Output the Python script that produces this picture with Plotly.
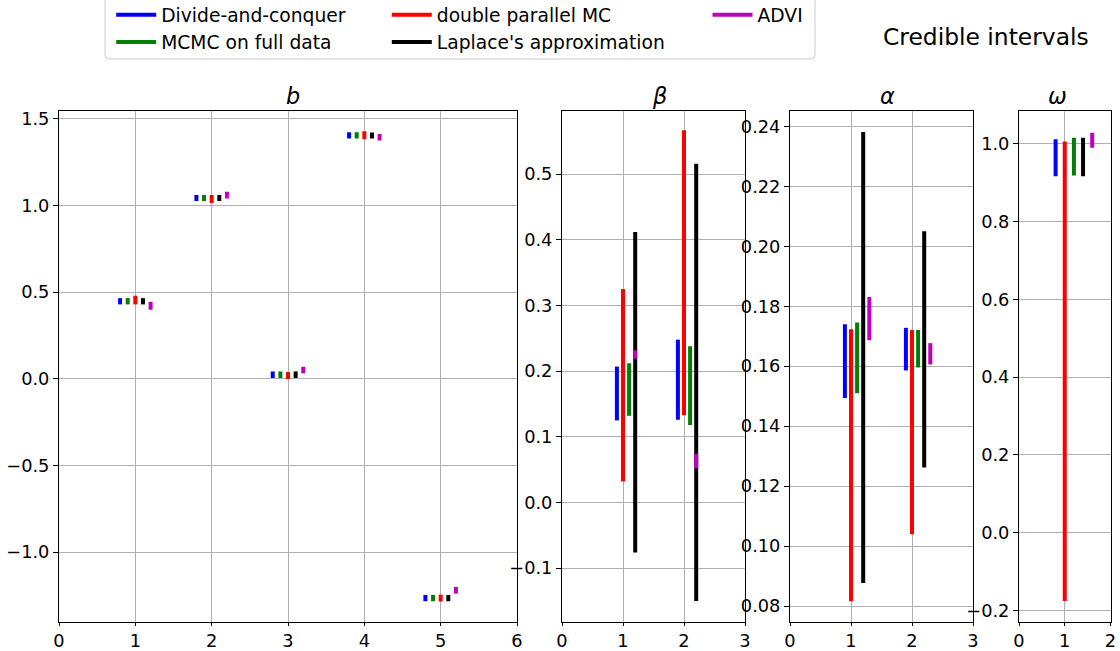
import plotly.graph_objects as go

# ---------------- data ----------------
methods = ["Divide-and-conquer", "MCMC on full data", "double parallel MC",
           "Laplace's approximation", "ADVI"]

# panel b : coefficients 1..5
b_categories = [1, 2, 3, 4, 5]
b_dc_lo = [0.429, 1.025, 0.004, 1.386, -1.284]
b_dc_hi = [0.465, 1.060, 0.042, 1.422, -1.248]
b_mcmc_lo = [0.429, 1.025, 0.004, 1.386, -1.284]
b_mcmc_hi = [0.465, 1.060, 0.042, 1.422, -1.248]
b_dpmc_lo = [0.429, 1.014, -0.002, 1.382, -1.286]
b_dpmc_hi = [0.479, 1.060, 0.039, 1.428, -1.246]
b_lap_lo = [0.429, 1.025, 0.004, 1.387, -1.284]
b_lap_hi = [0.465, 1.060, 0.042, 1.421, -1.248]
b_advi_lo = [0.398, 1.040, 0.031, 1.375, -1.240]
b_advi_hi = [0.444, 1.079, 0.069, 1.412, -1.202]

# panel beta : 1..2
beta_categories = [1, 2]
beta_dc_lo = [0.125, 0.126]
beta_dc_hi = [0.207, 0.248]
beta_mcmc_lo = [0.132, 0.118]
beta_mcmc_hi = [0.212, 0.238]
beta_dpmc_lo = [0.032, 0.133]
beta_dpmc_hi = [0.325, 0.567]
beta_lap_lo = [-0.076, -0.150]
beta_lap_hi = [0.412, 0.516]
beta_advi_lo = [0.219, 0.052]
beta_advi_hi = [0.232, 0.074]

# panel alpha : 1..2
alpha_categories = [1, 2]
alpha_dc_lo = [0.1494, 0.1586]
alpha_dc_hi = [0.1740, 0.1728]
alpha_mcmc_lo = [0.1510, 0.1596]
alpha_mcmc_hi = [0.1746, 0.1721]
alpha_dpmc_lo = [0.0816, 0.1040]
alpha_dpmc_hi = [0.1723, 0.1721]
alpha_lap_lo = [0.0877, 0.1262]
alpha_lap_hi = [0.2381, 0.2050]
alpha_advi_lo = [0.1687, 0.1606]
alpha_advi_hi = [0.1831, 0.1677]

# panel omega : 1
omega_categories = [1]
omega_dc_lo = [0.917]
omega_dc_hi = [1.012]
omega_mcmc_lo = [0.919]
omega_mcmc_hi = [1.016]
omega_dpmc_lo = [-0.176]
omega_dpmc_hi = [1.006]
omega_lap_lo = [0.917]
omega_lap_hi = [1.016]
omega_advi_lo = [0.990]
omega_advi_hi = [1.029]

# ---------------- styles ----------------
W, H = 1120, 651
FONT = "DejaVu Sans"
colors = {"Divide-and-conquer": "#0000ff", "MCMC on full data": "#008000",
          "double parallel MC": "#ff0000", "Laplace's approximation": "#000000",
          "ADVI": "#bf00bf"}
legend_of = {"Divide-and-conquer": "legend", "MCMC on full data": "legend",
             "double parallel MC": "legend2", "Laplace's approximation": "legend2",
             "ADVI": "legend3"}


def px_x(p):
    return p / W


def px_y(p):
    return 1 - p / H


Y_DOMAIN = [px_y(622), px_y(110.5)]

panels = [
    dict(name="b", xa="x", ya="y", dom=[59, 517], xr=[0, 6], yr=[-1.404, 1.548],
         dtick=0.5, fmt=".1f", cats=b_categories, title_x=293,
         data={"Divide-and-conquer": (b_dc_lo, b_dc_hi), "MCMC on full data": (b_mcmc_lo, b_mcmc_hi),
               "double parallel MC": (b_dpmc_lo, b_dpmc_hi), "Laplace's approximation": (b_lap_lo, b_lap_hi),
               "ADVI": (b_advi_lo, b_advi_hi)},
         off={"Divide-and-conquer": -0.2, "MCMC on full data": -0.1, "double parallel MC": 0.0,
              "Laplace's approximation": 0.1, "ADVI": 0.2}),
    dict(name="β", xa="x2", ya="y2", dom=[562, 745], xr=[0, 3], yr=[-0.182, 0.597],
         dtick=0.1, fmt=".1f", cats=beta_categories, title_x=659,
         data={"Divide-and-conquer": (beta_dc_lo, beta_dc_hi), "MCMC on full data": (beta_mcmc_lo, beta_mcmc_hi),
               "double parallel MC": (beta_dpmc_lo, beta_dpmc_hi), "Laplace's approximation": (beta_lap_lo, beta_lap_hi),
               "ADVI": (beta_advi_lo, beta_advi_hi)},
         off={"Divide-and-conquer": -0.1, "MCMC on full data": 0.1, "double parallel MC": 0.0,
              "Laplace's approximation": 0.2, "ADVI": 0.2}),
    dict(name="α", xa="x3", ya="y3", dom=[790, 973], xr=[0, 3], yr=[0.0747, 0.2453],
         dtick=0.02, fmt=".2f", cats=alpha_categories, title_x=887,
         data={"Divide-and-conquer": (alpha_dc_lo, alpha_dc_hi), "MCMC on full data": (alpha_mcmc_lo, alpha_mcmc_hi),
               "double parallel MC": (alpha_dpmc_lo, alpha_dpmc_hi), "Laplace's approximation": (alpha_lap_lo, alpha_lap_hi),
               "ADVI": (alpha_advi_lo, alpha_advi_hi)},
         off={"Divide-and-conquer": -0.1, "MCMC on full data": 0.1, "double parallel MC": 0.0,
              "Laplace's approximation": 0.2, "ADVI": 0.3}),
    dict(name="ω", xa="x4", ya="y4", dom=[1019, 1110.5], xr=[0, 2], yr=[-0.230, 1.086],
         dtick=0.2, fmt=".1f", cats=omega_categories, title_x=1057,
         data={"Divide-and-conquer": (omega_dc_lo, omega_dc_hi), "MCMC on full data": (omega_mcmc_lo, omega_mcmc_hi),
               "double parallel MC": (omega_dpmc_lo, omega_dpmc_hi), "Laplace's approximation": (omega_lap_lo, omega_lap_hi),
               "ADVI": (omega_advi_lo, omega_advi_hi)},
         off={"Divide-and-conquer": -0.2, "MCMC on full data": 0.2, "double parallel MC": 0.0,
              "Laplace's approximation": 0.4, "ADVI": 0.6}),
]

draw_order = ["Divide-and-conquer", "MCMC on full data", "double parallel MC",
              "Laplace's approximation", "ADVI"]

fig = go.Figure()
for i, p in enumerate(panels):
    for m in draw_order:
        lo, hi = p["data"][m]
        xs, ys = [], []
        for c, a, b in zip(p["cats"], lo, hi):
            xs += [c + p["off"][m], c + p["off"][m], None]
            ys += [a, b, None]
        fig.add_trace(go.Scatter(
            x=xs, y=ys, mode="lines", name=m, legendgroup=m,
            legend=legend_of[m], showlegend=(i == 0),
            line=dict(color=colors[m], width=4),
            xaxis=p["xa"], yaxis=p["ya"], hoverinfo="skip"))

axis_common = dict(showline=True, mirror=True, linecolor="black", linewidth=1,
                   ticks="outside", ticklen=5, tickwidth=1, tickcolor="black",
                   showgrid=True, gridcolor="#b0b0b0", gridwidth=1, zeroline=False,
                   tickfont=dict(family=FONT, size=17.8, color="black"),
                   automargin=False, fixedrange=True)

layout_axes = {}
annotations = []
for p in panels:
    xkey = "xaxis" + p["xa"][1:]
    ykey = "yaxis" + p["ya"][1:]
    layout_axes[xkey] = dict(axis_common, domain=[px_x(p["dom"][0]), px_x(p["dom"][1])],
                             range=p["xr"], dtick=1, tick0=0, anchor=p["ya"], ticklen=3)
    layout_axes[ykey] = dict(axis_common, domain=Y_DOMAIN, range=p["yr"],
                             dtick=p["dtick"], tick0=0, tickformat=p["fmt"], anchor=p["xa"])
    annotations.append(dict(text="<i>%s</i>" % p["name"], xref="paper", yref="paper",
                            x=px_x(p["title_x"]), y=px_y(96.5), xanchor="center", yanchor="middle",
                            showarrow=False, font=dict(family=FONT, size=22.4, color="black")))

annotations.append(dict(text="Credible intervals", xref="paper", yref="paper",
                        x=px_x(986), y=px_y(37), xanchor="center", yanchor="middle",
                        showarrow=False, font=dict(family=FONT, size=23.4, color="black")))

legend_common = dict(orientation="v", xanchor="left", yanchor="top", y=px_y(-4),
                     bgcolor="rgba(0,0,0,0)", borderwidth=0, itemwidth=40,
                     font=dict(family=FONT, size=18.7, color="black"),
                     tracegroupgap=0, itemclick=False, itemdoubleclick=False)

# legend frame with rounded lower corners (top edge lies above the page)
fx0, fx1, fyb, fyt, r = 105, 815, 59, -5, 4
frame_path = ("M{a},{t} L{a},{b1} Q{a},{b} {a1},{b} L{c1},{b} Q{c},{b} {c},{b1} L{c},{t}"
              .format(a=px_x(fx0), a1=px_x(fx0 + r), c=px_x(fx1), c1=px_x(fx1 - r),
                      t=px_y(fyt), b=px_y(fyb), b1=px_y(fyb - r)))

fig.update_layout(
    width=W, height=H, autosize=False,
    margin=dict(l=0, r=0, t=0, b=0, pad=0, autoexpand=False),
    paper_bgcolor="white", plot_bgcolor="white",
    font=dict(family=FONT, color="black"),
    showlegend=True,
    legend=dict(legend_common, x=px_x(111.2)),
    legend2=dict(legend_common, x=px_x(386.8)),
    legend3=dict(legend_common, x=px_x(707.5)),
    annotations=annotations,
    shapes=[dict(type="path", xref="paper", yref="paper", path=frame_path,
                 line=dict(color="#cccccc", width=1), layer="below")],
    **layout_axes,
)

fig.write_html("out.html")
